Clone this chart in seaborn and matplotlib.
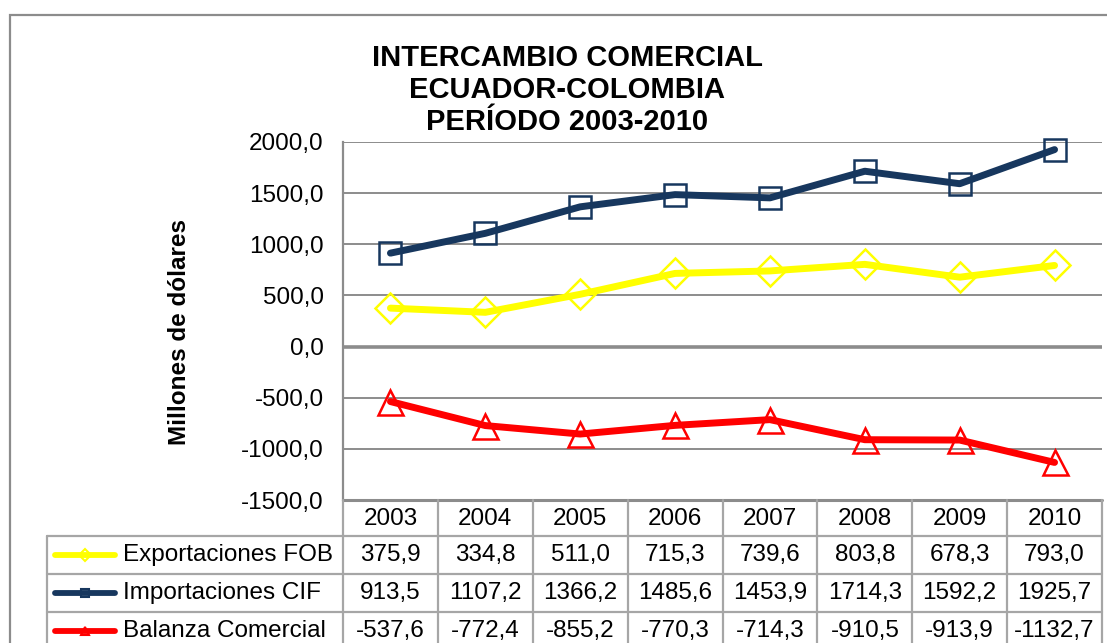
import numpy as np
import pandas as pd
import matplotlib
matplotlib.use("Agg")
import matplotlib.pyplot as plt
import matplotlib.transforms as mtransforms
from matplotlib.lines import Line2D
from matplotlib.patches import Rectangle
import seaborn as sns

years = [2003, 2004, 2005, 2006, 2007, 2008, 2009, 2010]
exportaciones = [375.9, 334.8, 511.0, 715.3, 739.6, 803.8, 678.3, 793.0]
importaciones = [913.5, 1107.2, 1366.2, 1485.6, 1453.9, 1714.3, 1592.2, 1925.7]
balanza = [-537.6, -772.4, -855.2, -770.3, -714.3, -910.5, -913.9, -1132.7]
series_names = ["Exportaciones FOB", "Importaciones CIF", "Balanza Comercial"]
y_ticks = [-1500, -1000, -500, 0, 500, 1000, 1500, 2000]

sns.set_style("white")
plt.rcParams["font.family"] = ["Liberation Sans", "DejaVu Sans"]
plt.rcParams["text.color"] = "black"
plt.rcParams["ytick.color"] = "black"

W, H = 1107, 643
def fx(x):
    return x / W
def fy(y):
    return 1 - y / H

def fmt(v):
    return f"{v:.1f}".replace(".", ",")

GRID = "#8C8C8C"
TGRID = "#A6A6A6"
styles = {
    "Exportaciones FOB": dict(color="#FFFF00", marker="D", ms=15),
    "Importaciones CIF": dict(color="#17375E", marker="s", ms=16.5),
    "Balanza Comercial": dict(color="#FF0000", marker="^", ms=18),
}

df = pd.DataFrame({"year": years * 3,
                   "value": exportaciones + importaciones + balanza,
                   "serie": np.repeat(series_names, len(years))})

fig = plt.figure(figsize=(W / 100, H / 100), dpi=100)
ax = fig.add_axes([fx(343), fy(500), (1102 - 343) / W, (500 - 142) / H])

for name in series_names:
    st = styles[name]
    sns.lineplot(data=df[df["serie"] == name], x="year", y="value", ax=ax,
                 color=st["color"], lw=5, marker=st["marker"], ms=st["ms"],
                 mfc="none", mec=st["color"], mew=1.8, clip_on=False,
                 solid_capstyle="round", legend=False)

ax.set_xlim(2002.5, 2010.5)
ax.set_ylim(-1500, 2000)
ax.set_yticks(y_ticks)
ax.set_yticklabels([fmt(t) for t in y_ticks])
ax.set_xticks([])
ax.tick_params(axis="y", length=0, pad=14, labelsize=17.5, colors="black")
ax.yaxis.grid(True, color=GRID, lw=1.4)
ax.axhline(0, color=GRID, lw=2.6, zorder=1)
ax.set_axisbelow(True)
for s in ["top", "right", "bottom"]:
    ax.spines[s].set_visible(False)
ax.spines["left"].set_color(GRID)
ax.spines["left"].set_linewidth(1.6)
ax.set_xlabel("")
ax.set_ylabel("")

fig.text(fx(180), fy(332), "Millones de dólares", rotation=90, ha="center",
         va="center", fontsize=17.5, fontweight="bold")
fig.text(fx(567), fy(90), "INTERCAMBIO COMERCIAL\nECUADOR-COLOMBIA\nPERÍODO 2003-2010",
         ha="center", va="center", fontsize=21, fontweight="bold", linespacing=1.2)

# outer chart frame
fig.add_artist(Rectangle((fx(10), fy(700)), fx(1130) - fx(10), fy(15) - fy(700),
                         transform=fig.transFigure, fill=False, ec=GRID, lw=1.6))

# data table below the plot
blend = mtransforms.blended_transform_factory(ax.transData, fig.transFigure)
bounds = [y - 0.5 for y in years] + [years[-1] + 0.5]
row_lines = [536, 574, 612]
bottom = 660
fig.add_artist(Line2D([bounds[0], bounds[-1]], [fy(500), fy(500)], transform=blend,
                      color=GRID, lw=2.2))
for yl in row_lines:
    fig.add_artist(Line2D([fx(47), fx(1102)], [fy(yl), fy(yl)], transform=fig.transFigure,
                          color=TGRID, lw=1.6))
for b in bounds:
    fig.add_artist(Line2D([b, b], [fy(500), fy(bottom)], transform=blend,
                          color=TGRID, lw=1.6))
fig.add_artist(Line2D([fx(47), fx(47)], [fy(536), fy(bottom)], transform=fig.transFigure,
                      color=TGRID, lw=1.6))

for yr in years:
    fig.text(yr, fy(519), str(yr), transform=blend, ha="center", va="center", fontsize=17.5)

row_y = [555, 593, 631]
for name, vals, yc in zip(series_names, [exportaciones, importaciones, balanza], row_y):
    st = styles[name]
    fig.add_artist(Line2D([fx(55), fx(115)], [fy(yc), fy(yc)], transform=fig.transFigure,
                          color=st["color"], lw=4.2, solid_capstyle="round"))
    fig.add_artist(Line2D([fx(85)], [fy(yc)], transform=fig.transFigure, marker=st["marker"],
                          ms=6, mfc="none", mec=st["color"], mew=1.5, color=st["color"]))
    fig.text(fx(123), fy(yc), name, ha="left", va="center", fontsize=17.5)
    for yr, v in zip(years, vals):
        fig.text(yr, fy(yc), fmt(v), transform=blend, ha="center", va="center", fontsize=17.5)

fig.savefig("out.png", dpi=100)
